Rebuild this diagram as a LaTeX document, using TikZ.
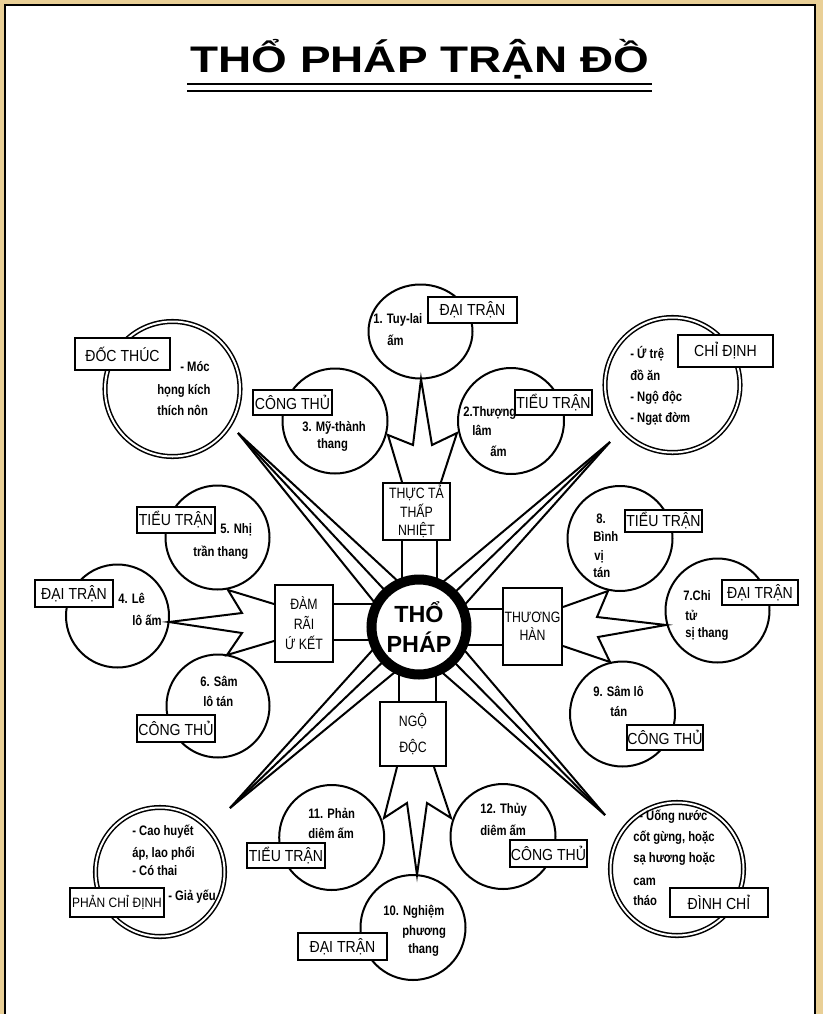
\documentclass[tikz,border=0pt]{standalone}
\usepackage{fontspec}
\setmainfont{Liberation Sans}
\newfontfamily\narrowfont{Liberation Sans}[FakeStretch=0.88]
\newfontfamily\slimfont{Liberation Sans}[FakeStretch=0.82]
\newfontfamily\titlefont{Liberation Sans}[FakeStretch=1.24]
\usetikzlibrary{calc,shapes.geometric}
\definecolor{woodbg}{RGB}{233,207,150}

\tikzset{
  wire/.style={line width=1.5pt, line join=miter},
  circ/.style={circle, draw, line width=1.5pt, fill=white, inner sep=0pt, minimum size={#1*0.75pt}},
  dcirc/.style={circle, draw, line width=1.15pt, double=white, double distance=1.5pt, fill=white, inner sep=0pt, minimum size={#1*0.75pt}},
  lab/.style n args={2}{draw, fill=white, line width=1.6pt, inner sep=0pt,
    minimum width={#1*0.75pt}, minimum height={#2*0.75pt},
    font=\narrowfont\fontsize{12}{14}\selectfont},
  hub/.style n args={2}{draw, fill=white, line width=1.5pt, inner sep=0pt, align=center,
    minimum width={#1*0.75pt}, minimum height={#2*0.75pt}},
  txt/.style={anchor=base west, inner sep=0pt, font=\slimfont\bfseries\fontsize{10.3}{12}\selectfont},
}

\begin{document}
\begin{tikzpicture}[x=0.75pt,y=-0.75pt]
\useasboundingbox (0,0) rectangle (823,1014);

% page and frame
\fill[woodbg] (0,0) rectangle (823,1014);
\fill[white] (5,5) rectangle (815,1014);
\draw[line width=1.8pt] (5,1014) -- (5,5) -- (815,5) -- (815,1014);

% heading
\node[font=\titlefont\bfseries\fontsize{27.75}{30}\selectfont, anchor=base, inner sep=0pt] (title) at (420,72) {THỔ PHÁP TRẬN ĐỒ};
\draw[line width=1.5pt] (187,84) -- (652,84);
\draw[line width=1.5pt] (187,90.5) -- (652,90.5);

% centre position and the tips of the diagonal spikes
\coordinate (ctrpt) at (419,627);
\coordinate (tipNW) at (238,433);
\coordinate (tipNE) at (610,442);
\coordinate (tipSW) at (230,808);
\coordinate (tipSE) at (605,815);

% diagonal spikes
\foreach \tp/\ang in {tipNW/227, tipNE/316, tipSW/136, tipSE/45}{
  \draw[wire] (\tp) -- ($(ctrpt)+(\ang-20:47)$);
  \draw[wire] (\tp) -- ($(ctrpt)+(\ang:47)$);
  \draw[wire] (\tp) -- ($(ctrpt)+(\ang+20:47)$);
}

% hub boxes around the centre
\node[hub={67}{57}, font=\slimfont\fontsize{11.25}{14}\selectfont] (bTop) at (416.5,511.5) {THỰC TẢ\\THẤP\\NHIỆT};
\node[hub={58}{77}, font=\slimfont\fontsize{11.25}{15}\selectfont] (bLeft) at (304,623.5) {ĐÀM\\RÃI\\Ứ KẾT};
\node[hub={59}{77}, font=\slimfont\fontsize{11.25}{13.7}\selectfont] (bRight) at (532.5,626.5) {THƯƠNG\\HÀN};
\node[hub={66}{64}, font=\slimfont\fontsize{11.25}{19.5}\selectfont] (bBot) at (413,734) {NGỘ\\ĐỘC};

% double bars from the hub boxes into the centre
\draw[wire] (bTop.south west) ++(20,0) -- ++(0,60);
\draw[wire] (bTop.south west) ++(55,0) -- ++(0,60);
\draw[wire] (bBot.north west) ++(20,0) -- ++(0,-60);
\draw[wire] (bBot.north west) ++(57,0) -- ++(0,-60);
\draw[wire] (bLeft.north east) ++(0,20) -- ++(60,0);
\draw[wire] (bLeft.north east) ++(0,56) -- ++(60,0);
\draw[wire] (bRight.north west) ++(0,22) -- ++(-60,0);
\draw[wire] (bRight.north west) ++(0,58) -- ++(-60,0);

% centre ring
\node[circle, draw, line width=7.5pt, fill=white, inner sep=0pt, minimum size={95*0.75pt}, align=center,
      font=\bfseries\fontsize{17.5}{22.5}\selectfont] (ctr) at (ctrpt) {THỔ\\PHÁP};

% remedy circles
\node[ellipse, draw, line width=1.5pt, fill=white, inner sep=0pt, minimum width={104*0.75pt}, minimum height={94*0.75pt}] (c1) at (420.5,331.5) {};
\node[circ=105] (c3) at (335,421) {};
\node[circ=106] (c2) at (511,421) {};
\node[circ=104] (c5) at (217.5,537.5) {};
\node[circ=103] (c4) at (117.5,616) {};
\node[circ=103] (c6) at (218,706) {};
\node[circ=105] (c8) at (620,538.5) {};
\node[circ=104] (c7) at (717.5,610.5) {};
\node[circ=105] (c9) at (622.5,714) {};
\node[circ=105] (c11) at (331.7,837.5) {};
\node[circ=105] (c12) at (503,836.5) {};
\node[circ=105] (c10) at (413,927.5) {};

% indication circles
\node[dcirc=135] (dDoc) at (172.5,389) {};
\node[dcirc=135] (dChi) at (672.5,385) {};
\node[dcirc=129] (dPhan) at (160,872) {};
\node[dcirc=133] (dDinh) at (677,869) {};

% zigzag links between hub boxes and remedy circles
\coordinate (zt1) at (388,435);
\coordinate (zt2) at (413,445);
\coordinate (zt3) at (421,379);
\coordinate (zt4) at (432,445);
\coordinate (zt5) at (457,433);
\draw[wire] ($(bTop.north west)+(20,0)$) -- (zt1) -- (zt2) -- (zt3) -- (zt4) -- (zt5) -- ($(bTop.north west)+(59,0)$);

\coordinate (zb1) at (384,818);
\coordinate (zb2) at (407,803);
\coordinate (zb3) at (417,875);
\coordinate (zb4) at (427,803);
\coordinate (zb5) at (451,818);
\draw[wire] ($(bBot.south west)+(18,0)$) -- (zb1) -- (zb2) -- (zb3) -- (zb4) -- (zb5) -- ($(bBot.south west)+(55,0)$);

\coordinate (zl1) at (228,590);
\coordinate (zl2) at (242,613);
\coordinate (zl3) at (169,622);
\coordinate (zl4) at (242,633);
\coordinate (zl5) at (227,655);
\draw[wire] ($(bLeft.north west)+(0,20)$) -- (zl1) -- (zl2) -- (zl3) -- (zl4) -- (zl5) -- ($(bLeft.north west)+(0,57)$);

\coordinate (zr1) at (608,591);
\coordinate (zr2) at (597,617);
\coordinate (zr3) at (666,625);
\coordinate (zr4) at (598,637);
\coordinate (zr5) at (610,662);
\draw[wire] ($(bRight.north east)+(0,20)$) -- (zr1) -- (zr2) -- (zr3) -- (zr4) -- (zr5) -- ($(bRight.north east)+(0,59)$);

% label boxes
\node[lab={89}{26}] (l1) at (472.5,310) {ĐẠI TRẬN};
\node[lab={79}{25}] (l3) at (292.5,402.5) {CÔNG THỦ};
\node[lab={77}{25}] (l2) at (553.5,402.5) {TIỂU TRẬN};
\node[lab={95}{32}] (lDoc) at (122.5,354) {ĐỐC THÚC};
\node[lab={95}{32}] (lChi) at (725.5,351) {CHỈ ĐỊNH};
\node[lab={78}{26}] (l5) at (176,520) {TIỂU TRẬN};
\node[lab={78}{27}] (l4) at (74,593.5) {ĐẠI TRẬN};
\node[lab={78}{27}] (l6) at (176,728.5) {CÔNG THỦ};
\node[lab={77}{22}] (l8) at (663.5,521) {TIỂU TRẬN};
\node[lab={76}{25}] (l7) at (760,592.5) {ĐẠI TRẬN};
\node[lab={76}{25}] (l9) at (665,737.5) {CÔNG THỦ};
\node[lab={78}{25}] (l11) at (286,855.5) {TIỂU TRẬN};
\node[lab={77}{27}] (l12) at (548.5,853.5) {CÔNG THỦ};
\node[lab={89}{27}] (l10) at (342.5,946.5) {ĐẠI TRẬN};
\node[lab={94}{29}, font=\narrowfont\fontsize{10.2}{12}\selectfont] (lPhan) at (117,902.5) {PHẢN CHỈ ĐỊNH};
\node[lab={98}{29}] (lDinh) at (719,902.5) {ĐÌNH CHỈ};

% texts inside the circles
\node[txt] (t1a) at (373,323) {1. Tuy-lai};
\node[txt] (t1b) at (387,345) {ấm};
\node[txt] (t3a) at (302,431) {3. Mỹ-thành};
\node[txt] (t3b) at (317,448) {thang};
\node[txt] (t2a) at (463,416) {2.Thượng};
\node[txt] (t2b) at (472,435) {lâm};
\node[txt] (t2c) at (490,456) {ấm};

\node[txt] (tda) at (180,371) {- Móc};
\node[txt] (tdb) at (157,394) {họng kích};
\node[txt] (tdc) at (157,415) {thích nôn};

\node[txt] (tca) at (630,358) {- Ứ trệ};
\node[txt] (tcb) at (630,380) {đồ ăn};
\node[txt] (tcc) at (630,401) {- Ngộ độc};
\node[txt] (tcd) at (630,422) {- Ngạt đờm};

\node[txt] (t5a) at (220,533) {5. Nhị};
\node[txt] (t5b) at (193,556) {trần thang};
\node[txt] (t4a) at (118,603) {4. Lê};
\node[txt] (t4b) at (132,625) {lô ấm};
\node[txt] (t6a) at (200,686) {6. Sâm};
\node[txt] (t6b) at (203,706) {lô tán};

\node[txt] (t8a) at (596,523) {8.};
\node[txt] (t8b) at (593,541) {Bình};
\node[txt] (t8c) at (594,560) {vị};
\node[txt] (t8d) at (593,577) {tán};
\node[txt] (t7a) at (683,600) {7.Chi};
\node[txt] (t7b) at (685,620) {tử};
\node[txt] (t7c) at (685,637) {sị thang};
\node[txt] (t9a) at (593,696) {9. Sâm lô};
\node[txt] (t9b) at (610,716) {tán};

\node[txt] (t11a) at (308,818) {11. Phản};
\node[txt] (t11b) at (308,838) {diêm ấm};
\node[txt] (t12a) at (480,813) {12. Thủy};
\node[txt] (t12b) at (480,835) {diêm ấm};
\node[txt] (t10a) at (383,915) {10. Nghiệm};
\node[txt] (t10b) at (402,935) {phương};
\node[txt] (t10c) at (408,953) {thang};

\node[txt] (tpa) at (132,835) {- Cao huyết};
\node[txt] (tpb) at (132,857) {áp, lao phổi};
\node[txt] (tpc) at (132,875) {- Có thai};
\node[txt] (tpd) at (168,900) {- Giả yếu};

\node[txt] (tea) at (639,820) {- Uống nước};
\node[txt] (teb) at (633,841) {cốt gừng, hoặc};
\node[txt] (tec) at (633,862) {sạ hương hoặc};
\node[txt] (ted) at (633,885) {cam};
\node[txt] (tee) at (633,905) {tháo};
\end{tikzpicture}
\end{document}
